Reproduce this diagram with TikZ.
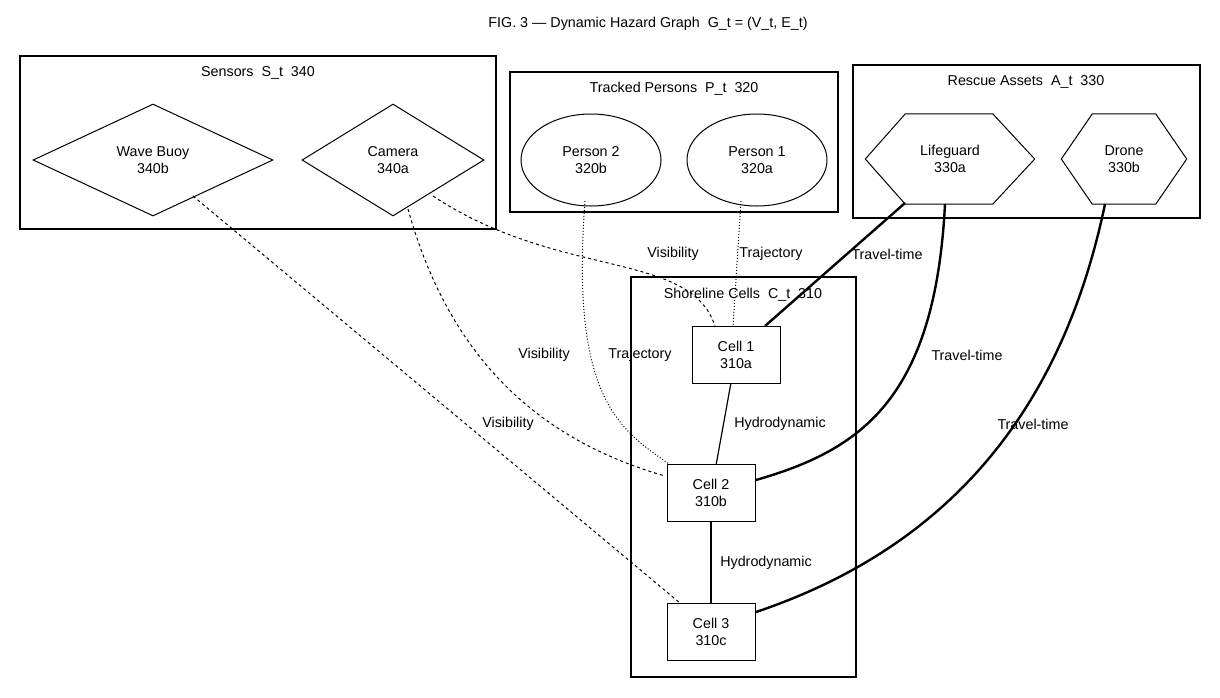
\documentclass[tikz,border=0pt]{standalone}
\usepackage{fontspec}
\setmainfont{Liberation Sans}
\usetikzlibrary{shapes.geometric}
\begin{document}
\begin{tikzpicture}[x=1pt,y=-1pt,
  every node/.style={font=\fontsize{14.3}{17}\selectfont,align=center},
  grp/.style={draw,line width=1.6pt},
  dia/.style={draw,line width=1pt,shape=diamond,inner sep=0pt},
  ell/.style={draw,line width=1pt,ellipse,inner sep=0pt},
  hexbox/.style={inner sep=0pt,minimum height=90pt},
  cell/.style={draw,line width=1pt,minimum width=88pt,minimum height=57pt},
  vis/.style={dashed,line width=1pt},
  traj/.style={dotted,line width=1pt},
  trav/.style={line width=2.4pt},
  hyd/.style={line width=1.2pt},
  lab/.style={inner sep=1pt}]
\useasboundingbox (0,0) rectangle (1220,697);
\node (title) at (648,24) {FIG. 3 — Dynamic Hazard Graph\ \ G\_t = (V\_t, E\_t)};
% groups
\draw[grp] (20,56) rectangle (496,229);
\node (sl) at (258,73) {Sensors\ \ S\_t\ \ 340};
\draw[grp] (510,72) rectangle (838,212);
\node (tl) at (674,89) {Tracked Persons\ \ P\_t\ \ 320};
\draw[grp] (853,65) rectangle (1200,218);
\node (rl) at (1026,82) {Rescue Assets\ \ A\_t\ \ 330};
\draw[grp] (631,277) rectangle (856,677);
\node (cl) at (743,295) {Shoreline Cells\ \ C\_t\ \ 310};
% nodes
\node[dia,minimum width=240pt,minimum height=112pt] (buoy) at (153,160) {Wave Buoy\\340b};
\node[dia,minimum width=182pt,minimum height=112pt] (cam) at (393,160) {Camera\\340a};
\node[ell,minimum width=140pt,minimum height=92pt] (p2) at (591,160) {Person 2\\320b};
\node[ell,minimum width=140pt,minimum height=92pt] (p1) at (757,160) {Person 1\\320a};
\node[hexbox,minimum width=169pt] (life) at (950,159) {Lifeguard\\330a};
\draw[line width=1pt] (life.west) -- ([xshift=40]life.north west) -- ([xshift=-42]life.north east) -- (life.east) -- ([xshift=-42]life.south east) -- ([xshift=40]life.south west) -- cycle;
\node[hexbox,minimum width=125pt] (drone) at (1124,159) {Drone\\330b};
\draw[line width=1pt] (drone.west) -- ([xshift=31]drone.north west) -- ([xshift=-31]drone.north east) -- (drone.east) -- ([xshift=-31]drone.south east) -- ([xshift=31]drone.south west) -- cycle;
\node[cell] (c1) at (736,355) {Cell 1\\310a};
\node[cell] (c2) at (711,493) {Cell 2\\310b};
\node[cell] (c3) at (711,632) {Cell 3\\310c};
% edges
\draw[vis] ([shift={(40,36)}]cam.center) .. controls (560,280) and (690,250) .. ([shift={(-21,-29)}]c1.center);
\draw[vis] ([shift={(15,49)}]cam.center) .. controls (450,360) and (540,440) .. ([shift={(-46,-17)}]c2.center);
\draw[vis] ([shift={(40,36)}]buoy.center) -- ([shift={(-31,-29)}]c3.center);
\draw[traj] ([shift={(-6,41)}]p2.center) .. controls (570,400) and (620,430) .. ([shift={(-39,-27)}]c2.center);
\draw[traj] ([shift={(-16,41)}]p1.center) -- ([shift={(-3,-29)}]c1.center);
\draw[trav] ([shift={(-45,44)}]life.center) -- ([shift={(29,-29)}]c1.center);
\draw[trav] ([shift={(-5,45)}]life.center) .. controls (935,400) and (860,450) .. ([shift={(45,-13)}]c2.center);
\draw[trav] ([shift={(-19,45)}]drone.center) .. controls (1060,420) and (940,550) .. ([shift={(45,-20)}]c3.center);
\draw[hyd] (c1) -- (c2);
\draw[hyd] (c2) -- (c3);
% labels
\node[lab] at (673,254) {Visibility};
\node[lab] at (544,355) {Visibility};
\node[lab] at (508,424) {Visibility};
\node[lab] at (640,355) {Trajectory};
\node[lab] at (771,254) {Trajectory};
\node[lab] at (887,254) {Travel-time};
\node[lab] at (967,355) {Travel-time};
\node[lab] at (1033,424) {Travel-time};
\node[lab] at (780,424) {Hydrodynamic};
\node[lab] at (766,563) {Hydrodynamic};
\end{tikzpicture}
\end{document}
